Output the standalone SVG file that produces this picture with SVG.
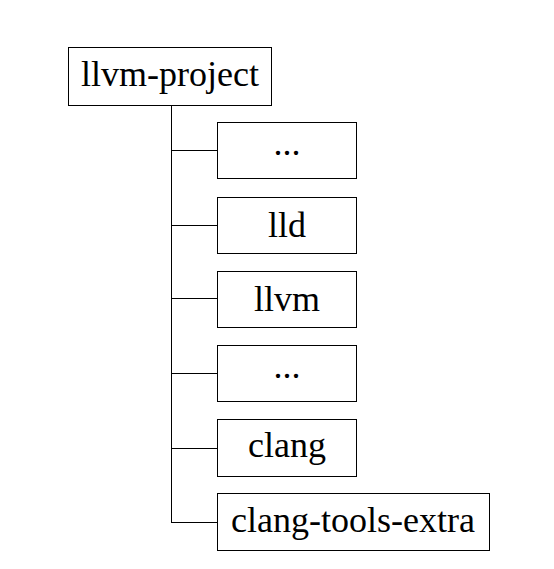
<svg xmlns="http://www.w3.org/2000/svg" width="554" height="569" viewBox="0 0 554 569">
<style>
.box{fill:#fff;stroke:#000;stroke-width:1}
text{font-family:"Liberation Serif",serif;font-size:36px;fill:#000;text-anchor:middle}
.c line{stroke:#000;stroke-width:1}
</style>
<rect x="0" y="0" width="554" height="569" fill="#fff"/>
<g class="c" id="connectors">
<line x1="171.5" y1="105" x2="171.5" y2="522.5"/>
<line x1="171" y1="150.5" x2="217" y2="150.5"/>
<line x1="171" y1="225.5" x2="217" y2="225.5"/>
<line x1="171" y1="298.5" x2="217" y2="298.5"/>
<line x1="171" y1="373.5" x2="217" y2="373.5"/>
<line x1="171" y1="448.5" x2="217" y2="448.5"/>
<line x1="171" y1="522.5" x2="217" y2="522.5"/>
</g>
<g id="root"><rect class="box" x="68.5" y="47.5" width="203" height="58"/><text x="170" y="86">llvm-project</text></g>
<g id="n1"><rect class="box" x="217.5" y="122.5" width="139" height="56"/><text x="287" y="155">...</text></g>
<g id="n2"><rect class="box" x="217.5" y="197.5" width="139" height="56"/><text x="287" y="237">lld</text></g>
<g id="n3"><rect class="box" x="217.5" y="271.5" width="139" height="56"/><text x="287" y="311">llvm</text></g>
<g id="n4"><rect class="box" x="217.5" y="345.5" width="139" height="56"/><text x="287" y="378">...</text></g>
<g id="n5"><rect class="box" x="217.5" y="419.5" width="139" height="57"/><text x="287" y="457">clang</text></g>
<g id="n6"><rect class="box" x="217.5" y="493.5" width="272" height="57"/><text x="353" y="532">clang-tools-extra</text></g>
</svg>
